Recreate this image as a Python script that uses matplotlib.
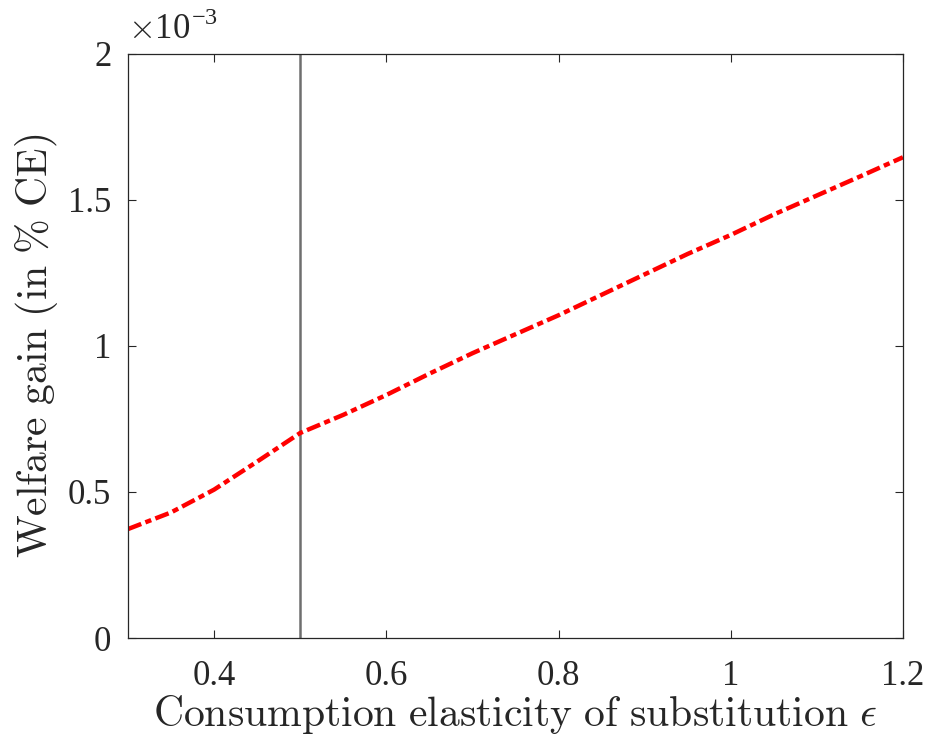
import matplotlib
matplotlib.use('Agg')
import matplotlib.pyplot as plt
from matplotlib.ticker import FormatStrFormatter

# elasticity grid and welfare gain (units of 1e-3, % CE)
elasticity = [0.30, 0.35, 0.40, 0.45, 0.50, 0.55, 0.60, 0.65, 0.70, 0.75,
              0.80, 0.85, 0.90, 0.95, 1.00, 1.05, 1.10, 1.15, 1.20]
welfare_gain = [0.373, 0.430, 0.508, 0.604, 0.702, 0.764, 0.832, 0.905, 0.975, 1.040,
                1.105, 1.175, 1.245, 1.315, 1.380, 1.450, 1.515, 1.580, 1.646]
baseline_eps = 0.5

xticks = [0.4, 0.6, 0.8, 1.0, 1.2]
yticks = [0, 0.5, 1, 1.5, 2]

plt.rcParams['mathtext.fontset'] = 'cm'
plt.rcParams['font.family'] = 'Liberation Serif'

fig = plt.figure(figsize=(9.3, 7.43), dpi=100)
ax = fig.add_axes([0.1376, 0.1413, 0.8333, 0.7862])

ax.axvline(baseline_eps, color='#6e6e6e', lw=1.8)
ax.plot(elasticity, welfare_gain, color='red', lw=3.2, dashes=(3.2, 1.0, 1.4, 1.0))

ax.set_xlim(0.3, 1.2)
ax.set_ylim(0, 2)
ax.set_xticks(xticks)
ax.set_yticks(yticks)
ax.xaxis.set_major_formatter(FormatStrFormatter('%g'))
ax.yaxis.set_major_formatter(FormatStrFormatter('%g'))

ax.tick_params(direction='in', length=6, width=0.8, colors='#262626',
               labelsize=25, top=True, right=True, pad=12)
ax.tick_params(axis='x', pad=16)
for s in ax.spines.values():
    s.set_color('#262626')
    s.set_linewidth(0.9)

ax.set_xlabel(r'$\mathrm{Consumption\ elasticity\ of\ substitution}\ \epsilon$',
              fontsize=30, color='#262626', labelpad=0)
ax.set_ylabel(r'$\mathrm{Welfare\ gain\ (in\ \%\ CE)}$',
              fontsize=30, color='#262626', labelpad=6)

ax.text(0.0, 1.012, r'$\times$10$^{\mathregular{-3}}$', transform=ax.transAxes,
        fontsize=25, color='#262626', ha='left', va='bottom')

fig.savefig('out.png', dpi=100)
